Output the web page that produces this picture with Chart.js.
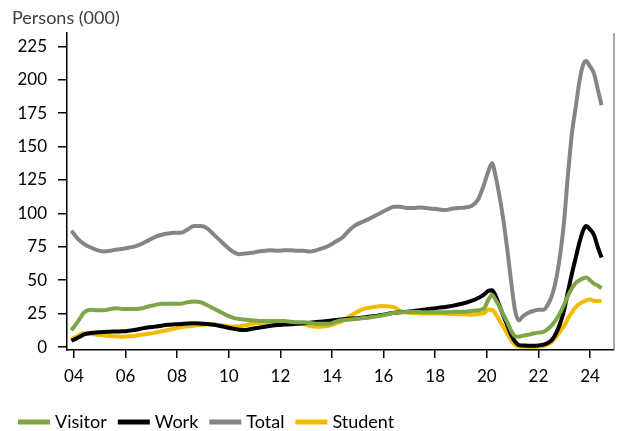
<!DOCTYPE html>
<html>
<head>
<meta charset="utf-8">
<script src="https://cdn.jsdelivr.net/npm/chart.js@4.4.1/dist/chart.umd.min.js"></script>
<style>
  html, body { margin: 0; padding: 0; background: #ffffff; }
  #wrap { width: 621px; height: 431px; position: relative; }
  canvas { display: block; }
</style>
</head>
<body>
<div id="wrap"><canvas id="c" width="621" height="431"></canvas></div>
<script>
// ---- Data (decimal years; values in thousands of persons) ----
const dates = [
  2003.9, 2004.15, 2004.4, 2004.65, 2004.9, 2005.15, 2005.4, 2005.65, 2005.9,
  2006.15, 2006.4, 2006.65, 2006.9, 2007.15, 2007.4, 2007.65, 2007.9,
  2008.15, 2008.4, 2008.65, 2008.9, 2009.15, 2009.4, 2009.65, 2009.9,
  2010.15, 2010.4, 2010.65, 2010.9, 2011.15, 2011.4, 2011.65, 2011.9,
  2012.15, 2012.4, 2012.65, 2012.9, 2013.15, 2013.4, 2013.65, 2013.9,
  2014.15, 2014.4, 2014.65, 2014.9, 2015.15, 2015.4, 2015.65, 2015.9,
  2016.15, 2016.4, 2016.65, 2016.9, 2017.15, 2017.4, 2017.65, 2017.9,
  2018.15, 2018.4, 2018.65, 2018.9, 2019.15, 2019.4, 2019.65, 2019.9,
  2020.05, 2020.2, 2020.35, 2020.5, 2020.65, 2020.8, 2020.95, 2021.1,
  2021.25, 2021.4, 2021.6, 2021.8, 2022.0, 2022.2, 2022.4, 2022.55,
  2022.7, 2022.85, 2023.0, 2023.15, 2023.3, 2023.45, 2023.6, 2023.75,
  2023.85, 2024.0, 2024.15, 2024.3, 2024.45
];

const visitor = [
  12.5, 19, 26, 28, 27.5, 27.5, 28.5, 29, 28.5,
  28.5, 28.5, 29, 30.5, 31.5, 32.5, 32.5, 32.5,
  32.5, 33.5, 34, 33.5, 31.5, 29, 26.5, 24,
  22, 21, 20.5, 20, 19.5, 19.5, 19.5, 19.5,
  19.5, 19, 18.5, 18.5, 18, 17.5, 17.5, 17.5,
  19, 20, 20.5, 21, 21.5, 22, 22.7, 23.5,
  24.5, 25.5, 26, 26.3, 26.4, 26.2, 26, 26,
  26, 26, 26.2, 26.5, 26.5, 27, 27.5, 29,
  35, 39, 35, 30, 24, 18.5, 12, 8,
  7.7, 8.5, 9.2, 10.2, 10.8, 11.3, 14, 17,
  21, 26, 32, 38.5, 44, 48, 50, 51.5,
  52, 50, 47.5, 46, 44
];

const work = [
  4.7, 7, 9.5, 10.5, 11, 11.3, 11.5, 11.7, 11.8,
  12.3, 13, 14, 14.8, 15.3, 16, 16.7, 17,
  17.3, 17.7, 17.8, 17.7, 17.2, 16.7, 15.8, 14.8,
  13.8, 13, 12.8, 13.7, 14.5, 15.2, 16, 16.5,
  16.8, 17.1, 17.5, 17.8, 18.2, 18.7, 19.2, 19.7,
  20.2, 20.8, 21.2, 21.5, 22, 22.6, 23.2, 24,
  24.8, 25.6, 26, 26.5, 27, 27.6, 28.2, 28.8,
  29.5, 30, 30.8, 31.8, 33, 34.5, 36.5, 39.5,
  42, 42.5, 38, 30.5, 23, 16, 9, 4,
  1.5, 1.2, 1, 1, 1.2, 1.8, 3.5, 6,
  11, 18, 28, 42, 55, 67, 79, 88,
  90.5, 88, 84, 75, 67
];

const total = [
  87, 81, 77, 74.5, 72.5, 71.5, 72, 73, 73.5,
  74.5, 75.5, 77.5, 80, 82.5, 84, 85, 85.5,
  85.5, 88, 90.5, 90.5, 89, 84.5, 80, 75.5,
  71.5, 69.5, 70, 70.5, 71.5, 72, 72.5, 72,
  72.5, 72.5, 72, 72, 71.5, 72.5, 74, 76,
  79, 82, 87, 91, 93.5, 95.5, 98, 100.5,
  103, 105, 105, 104, 104, 104.5, 104, 103.5,
  103, 102.5, 103.5, 104, 104.5, 105.5, 110, 122,
  131, 137.5, 127, 112, 94, 72, 48, 27,
  20, 23, 25.5, 27, 28, 28, 33, 40,
  52, 70, 95, 130, 160, 180, 200, 212,
  214, 210, 205, 193, 181
];

const student = [
  6, 8.5, 10.5, 10, 9.2, 8.7, 8.3, 8, 7.8,
  8, 8.5, 9.3, 10, 10.8, 11.8, 12.8, 13.8,
  14.8, 15.5, 16, 16.5, 17, 17, 16.5, 15.8,
  15.2, 15.5, 16.3, 17.5, 18, 18.2, 18.2, 18,
  18, 17.8, 17.7, 17, 15.7, 15.2, 15.4, 16,
  17.7, 19.5, 22.7, 25.5, 28, 29.3, 30, 30.7,
  30.5, 29.8, 27, 25.8, 25.4, 25.2, 25.2, 25.2,
  25.2, 25, 24.8, 24.6, 24.5, 24.2, 24.8, 25.5,
  28, 28, 24.5, 19.5, 15, 9.5, 5, 1.5,
  0.3, 0.3, 0.3, 0.3, 0.4, 0.8, 2.5, 4.5,
  8, 12, 16, 21.5, 26, 30, 32.5, 34,
  35, 35.5, 34.5, 34.5, 34.5
];

const seriesNames = ['Visitor', 'Work', 'Total', 'Student'];
const seriesColors = ['#7EA646', '#000000', '#858585', '#F2BA00'];
const xTickValues = [2004, 2006, 2008, 2010, 2012, 2014, 2016, 2018, 2020, 2022, 2024];
const xTickLabels = ['04', '06', '08', '10', '12', '14', '16', '18', '20', '22', '24'];
const yTickValues = [0, 25, 50, 75, 100, 125, 150, 175, 200, 225];
const yTitle = 'Persons (000)';

// ---- Chart ----
const FONT = 'Lato, "Open Sans", sans-serif';
const seriesValues = [visitor, work, total, student];

const datasets = seriesNames.map((name, s) => ({
  label: name,
  data: dates.map((d, i) => ({ x: d, y: seriesValues[s][i] })),
  borderColor: seriesColors[s],
  backgroundColor: seriesColors[s],
  borderWidth: 4,
  pointRadius: 0,
  cubicInterpolationMode: 'monotone',
  fill: false,
  borderJoinStyle: 'round',
  borderCapStyle: 'butt'
}));

const extrasPlugin = {
  id: 'extras',
  afterDraw(chart) {
    const ctx = chart.ctx;
    const ca = chart.chartArea;
    ctx.save();
    // right frame line
    ctx.strokeStyle = '#8a8a8a';
    ctx.lineWidth = 1.5;
    ctx.beginPath();
    ctx.moveTo(ca.right, ca.top);
    ctx.lineTo(ca.right, ca.bottom);
    ctx.stroke();
    // title
    ctx.fillStyle = '#404040';
    ctx.font = '18px ' + FONT;
    ctx.textBaseline = 'middle';
    ctx.textAlign = 'left';
    ctx.fillText(yTitle, 12, 18);
    // legend
    ctx.font = '18px ' + FONT;
    let x = 18;
    const y = 422;
    seriesNames.forEach((name, i) => {
      ctx.fillStyle = seriesColors[i];
      ctx.fillRect(x, y - 2.5, 32, 5);
      x += 32 + 5;
      ctx.fillStyle = '#000000';
      ctx.fillText(name, x, y);
      x += ctx.measureText(name).width + 11;
    });
    ctx.restore();
  }
};

new Chart(document.getElementById('c'), {
  type: 'line',
  data: { datasets },
  options: {
    responsive: false,
    animation: false,
    events: [],
    layout: { padding: { left: 0, right: 7, top: 33, bottom: 0 } },
    plugins: {
      legend: { display: false },
      title: { display: false },
      tooltip: { enabled: false }
    },
    scales: {
      x: {
        type: 'linear',
        min: 2003.73,
        max: 2024.93,
        afterBuildTicks: (axis) => { axis.ticks = xTickValues.map(v => ({ value: v })); },
        afterFit: (axis) => { axis.height = 81; },
        ticks: {
          autoSkip: false,
          maxRotation: 0,
          padding: 8,
          color: '#000000',
          font: { family: FONT, size: 17 },
          callback: (v) => { const i = xTickValues.indexOf(v); return i >= 0 ? xTickLabels[i] : ''; }
        },
        grid: { drawOnChartArea: false, drawTicks: true, tickLength: 8, color: '#000000', lineWidth: 1.5 },
        border: { display: true, color: '#000000', width: 1.5 }
      },
      y: {
        min: -2.2,
        max: 235,
        afterBuildTicks: (axis) => { axis.ticks = yTickValues.map(v => ({ value: v })); },
        afterFit: (axis) => { axis.width = 67; },
        ticks: {
          padding: 11,
          color: '#000000',
          font: { family: FONT, size: 17 }
        },
        grid: { drawOnChartArea: false, drawTicks: true, tickLength: 9, color: '#000000', lineWidth: 1.5 },
        border: { display: true, color: '#000000', width: 1.5 }
      }
    }
  },
  plugins: [extrasPlugin]
});
</script>
</body>
</html>
